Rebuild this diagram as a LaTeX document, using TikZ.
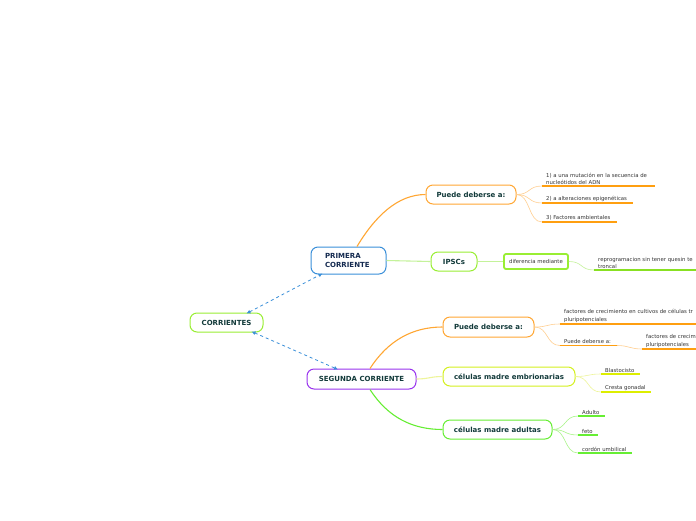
\documentclass[tikz,border=0pt]{standalone}
\usepackage{fontspec}
\setmainfont{DejaVu Sans}
\usetikzlibrary{arrows.meta,calc}
\definecolor{txt}{HTML}{123A3A}
\definecolor{navy}{HTML}{142A50}
\definecolor{small}{HTML}{333333}
\definecolor{orng}{HTML}{FFA733}
\definecolor{orngl}{HTML}{FFCF90}
\definecolor{orngu}{HTML}{FF9F10}
\definecolor{blu}{HTML}{3A8FD9}
\definecolor{purp}{HTML}{9933EE}
\definecolor{grn}{HTML}{99EE33}
\definecolor{grnl}{HTML}{C4F29A}
\definecolor{grnu}{HTML}{88E022}
\definecolor{yel}{HTML}{D4F020}
\definecolor{yell}{HTML}{EEF59A}
\definecolor{yelu}{HTML}{DDEE00}
\definecolor{agr}{HTML}{66EE33}
\definecolor{agrl}{HTML}{AAF58A}
\begin{document}
\begin{tikzpicture}[x=1pt,y=-1pt,
  mainbox/.style={draw, rounded corners=7pt, line width=1pt, fill=white,
    font=\bfseries\fontsize{7}{8.5}\selectfont, text=txt, inner sep=0pt},
  leaf/.style={anchor=south west, inner sep=0pt, align=left, text=small,
    font=\fontsize{5.35}{7.2}\selectfont},
  uline/.style={line width=1.4pt},
  twig/.style={line width=0.6pt},
  branch/.style={line width=1.1pt}]
\useasboundingbox[fill=white] (0,0) rectangle (696,520);

% main nodes
\node[mainbox, draw=grn, minimum width=73pt, minimum height=19pt] (C) at (226.5,322.5) {CORRIENTES};
\node[mainbox, draw=blu, minimum width=75pt, minimum height=27pt, text width=47pt, align=left, text=navy] (P) at (348.5,260.5) {PRIMERA\\CORRIENTE};
\node[mainbox, draw=purp, minimum width=109pt, minimum height=20pt] (S) at (361.5,379) {SEGUNDA CORRIENTE};

\node[mainbox, draw=orng, minimum width=90pt, minimum height=19pt] (PD1) at (471,194.5) {Puede deberse a:};
\node[mainbox, draw=grn, minimum width=46pt, minimum height=19pt] (I) at (454,261.5) {IPSCs};
\node[draw=grn, rounded corners=2pt, line width=1.8pt, fill=white, minimum width=64pt, minimum height=15pt, inner sep=0pt, text=small, font=\fontsize{5.35}{6}\selectfont] (D) at (536,261.5) {diferencia mediante};
\node[mainbox, draw=orng, minimum width=91pt, minimum height=20pt] (PD2) at (488.5,327) {Puede deberse a:};
\node[mainbox, draw=yel, minimum width=132pt, minimum height=19pt] (E) at (509,376.5) {células madre embrionarias};
\node[mainbox, draw=agr, minimum width=109pt, minimum height=19pt] (A) at (497.5,429.5) {células madre adultas};

% dashed connectors
\draw[blu, dashed, line width=0.8pt, {Latex[length=4pt,width=4pt]}-{Latex[length=4pt,width=4pt]}]
  ($(C.north)+(20,1)$) -- ($(P.south)+(-26,-1)$);
\draw[blu, dashed, line width=0.8pt, {Latex[length=4pt,width=4pt]}-{Latex[length=4pt,width=4pt]}]
  ($(C.south)+(25,-1)$) -- ($(S.north)+(-23.5,1)$);

% main branches
\draw[orng, branch] ($(P.north)+(8.5,0)$) .. controls +(18,-30) and +(-28,0) .. (PD1.west);
\draw[grnl, branch] (P.east) -- (I.west);
\draw[grnl, twig] (I.east) -- (D.west);
\draw[orng, branch] ($(S.north)+(8.5,0)$) .. controls +(18,-28) and +(-30,0) .. (PD2.west);
\draw[yell, branch] (S.east) .. controls +(12,0) and +(-12,0) .. (E.west);
\draw[agr, branch] ($(S.south)+(8.5,0)$) .. controls +(18,28) and +(-30,0) .. (A.west);

% PD1 leaves
\coordinate (a1) at (542,186); \coordinate (a1e) at (655,186);
\coordinate (a2) at (542,203); \coordinate (a2e) at (633,203);
\coordinate (a3) at (542,222); \coordinate (a3e) at (617,222);
\node[leaf] (t1) at (546,184.5) {1) a una mutación en la secuencia de\\nucleótidos del ADN};
\node[leaf] (t2) at (546,201.5) {2) a alteraciones epigenéticas};
\node[leaf] (t3) at (546,220.5) {3) Factores ambientales};
\foreach \s/\e in {a1/a1e,a2/a2e,a3/a3e}{
  \draw[orngl, twig] (PD1.east) .. controls +(14,0) and +(-14,0) .. (\s);
  \draw[orngu, uline] (\s) -- (\e);
}

% diferencia leaf
\coordinate (r1) at (594,270); \coordinate (r1e) at (696,270);
\node[leaf] (tr) at (598,268.5) {reprogramacion sin tener quesin te\\troncal};
\draw[grnl, twig] (D.east) .. controls +(14,0) and +(-14,0) .. (r1);
\draw[grnu, uline] (r1) -- (r1e);

% PD2 leaves
\coordinate (b1) at (560,324); \coordinate (b1e) at (696,324);
\coordinate (b2) at (560,345.5); \coordinate (b2e) at (617,345.5);
\coordinate (b3) at (642,349); \coordinate (b3e) at (696,349);
\node[leaf] (tb1) at (564,322.5) {factores de crecimiento en cultivos de células tr\\pluripotenciales};
\node[leaf] (tb2) at (564,344) {Puede deberse a:};
\node[leaf] (tb3) at (646,347.5) {factores de crecim\\pluripotenciales};
\draw[orngl, twig] (PD2.east) .. controls +(14,0) and +(-14,0) .. (b1);
\draw[orngl, twig] (PD2.east) .. controls +(14,0) and +(-14,0) .. (b2);
\draw[orngl, twig] (b2e) .. controls +(12,0) and +(-12,0) .. (b3);
\draw[orngu, uline] (b1) -- (b1e);
\draw[orngu, uline] (b2) -- (b2e);
\draw[orngu, uline] (b3) -- (b3e);

% embrionarias leaves
\coordinate (c1) at (601,374); \coordinate (c1e) at (640,374);
\coordinate (c2) at (601,392); \coordinate (c2e) at (651,392);
\node[leaf] (tc1) at (605,372.5) {Blastocisto};
\node[leaf] (tc2) at (605,390.5) {Cresta gonadal};
\foreach \s/\e in {c1/c1e,c2/c2e}{
  \draw[yell, twig] (E.east) .. controls +(14,0) and +(-14,0) .. (\s);
  \draw[yelu, uline] (\s) -- (\e);
}

% adultas leaves
\coordinate (d1) at (578,416); \coordinate (d1e) at (605,416);
\coordinate (d2) at (578,435); \coordinate (d2e) at (598,435);
\coordinate (d3) at (578,453); \coordinate (d3e) at (632,453);
\node[leaf] (td1) at (582,414.5) {Adulto};
\node[leaf] (td2) at (582,433.5) {feto};
\node[leaf] (td3) at (582,451.5) {cordón umbilical};
\foreach \s/\e in {d1/d1e,d2/d2e,d3/d3e}{
  \draw[agrl, twig] (A.east) .. controls +(14,0) and +(-14,0) .. (\s);
  \draw[agr, uline] (\s) -- (\e);
}
\end{tikzpicture}
\end{document}
